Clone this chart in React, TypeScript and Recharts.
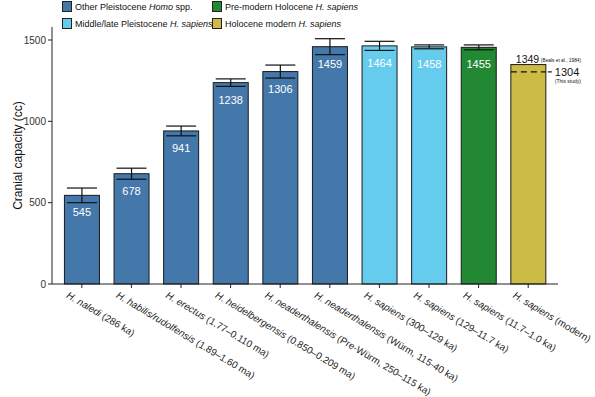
import React from "react";
import { BarChart, Bar, XAxis, YAxis, Cell, ErrorBar, LabelList } from "recharts";

const species = [
  "H. naledi",
  "H. habilis/rudolfensis",
  "H. erectus",
  "H. heidelbergensis",
  "H. neaderthalensis",
  "H. neaderthalensis",
  "H. sapiens",
  "H. sapiens",
  "H. sapiens",
  "H. sapiens",
];
const periods = [
  "(286 ka)",
  "(1.89–1.60 ma)",
  "(1.77–0.110 ma)",
  "(0.850–0.209 ma)",
  "(Pre-Würm, 250–115 ka)",
  "(Würm, 115-40 ka)",
  "(300–129 ka)",
  "(129–11.7 ka)",
  "(11.7–1.0 ka)",
  "(modern)",
];
const capacity = [545, 678, 941, 1238, 1306, 1459, 1464, 1458, 1455, 1349];
const errors = [45, 34, 30, 23, 40, 49, 28, 12, 15, 0];
const groups = ["other", "other", "other", "other", "other", "other", "mid", "mid", "pre", "holo"];
const thisStudy = 1304;
const yTicks = [0, 500, 1000, 1500];

const groupColors: { [k: string]: string } = {
  other: "#4477AA",
  mid: "#66CCEE",
  pre: "#228833",
  holo: "#CCBB44",
};

const data = capacity.map((v, i) => ({
  name: species[i] + " " + periods[i],
  value: v,
  err: errors[i],
  group: groups[i],
}));

const font = "'Liberation Sans', Arial, Helvetica, sans-serif";

const XTick = (props: any) => {
  const { x, y, index } = props;
  return (
    <g transform={`translate(${x - 16},${y + 7}) rotate(31)`}>
      <text x={0} y={0} fontSize={9.8} fill="#222" fontFamily={font} textAnchor="start">
        <tspan fontStyle="italic">{species[index]}</tspan>
        <tspan> {periods[index]}</tspan>
      </text>
    </g>
  );
};

const ValueLabel = (props: any) => {
  const { x, y, width, value, index } = props;
  if (index === capacity.length - 1) return null;
  return (
    <text x={x + width / 2} y={y + 21} fontSize={11} fill="#fff" textAnchor="middle" fontFamily={font}>
      {value}
    </text>
  );
};

const BarShape = (props: any) => {
  const { x, y, width, height, fill, index } = props;
  const last = index === capacity.length - 1;
  const dashY = y + height * (1 - thisStudy / capacity[index]);
  const r = x + width;
  return (
    <g>
      <rect x={x} y={y} width={width} height={height} fill={fill} stroke="#1a1a1a" strokeWidth={1} />
      {last && (
        <g fontFamily={font} fill="#111">
          <line x1={x} x2={r} y1={dashY} y2={dashY} stroke="#111" strokeWidth={1.3} strokeDasharray="6 4" />
          <text x={x + 5} y={y - 1.5} fontSize={10.5}>
            {capacity[index]}
          </text>
          <text x={r - 5} y={y - 2.5} fontSize={4.8}>
            (Beals et al., 1984)
          </text>
          <line x1={r + 2} x2={r + 6} y1={dashY} y2={dashY} stroke="#111" strokeWidth={1.2} />
          <text x={r + 9} y={dashY + 4.5} fontSize={11}>
            {thisStudy}
          </text>
          <text x={r + 9} y={dashY + 11} fontSize={5}>
            (This study)
          </text>
        </g>
      )}
    </g>
  );
};

const legendItems = [
  { color: groupColors.other, pre: "Other Pleistocene ", it: "Homo", post: " spp.", left: 62, top: 1 },
  { color: groupColors.pre, pre: "Pre-modern Holocene ", it: "H. sapiens", post: "", left: 212, top: 1 },
  { color: groupColors.mid, pre: "Middle/late Pleistocene ", it: "H. sapiens", post: "", left: 62, top: 18 },
  { color: groupColors.holo, pre: "Holocene modern ", it: "H. sapiens", post: "", left: 212, top: 18 },
];

export default function App() {
  return (
    <div style={{ position: "absolute", left: 0, top: 0, width: 595, height: 397, background: "#fff" }}>
      {legendItems.map((l) => (
        <div
          key={l.pre + l.it}
          style={{
            position: "absolute",
            left: l.left,
            top: l.top,
            display: "flex",
            alignItems: "center",
            fontFamily: font,
            fontSize: 9,
            color: "#111",
            whiteSpace: "nowrap",
          }}
        >
          <span
            style={{
              display: "inline-block",
              width: 8,
              height: 9,
              background: l.color,
              border: "1px solid #222",
              marginRight: 3,
            }}
          />
          <span>
            {l.pre}
            <i>{l.it}</i>
            {l.post}
          </span>
        </div>
      ))}
      <BarChart
        width={595}
        height={397}
        data={data}
        margin={{ top: 27, right: 37, bottom: 5, left: 12 }}
        barCategoryGap="15%"
      >
        <XAxis
          dataKey="name"
          interval={0}
          tick={<XTick />}
          tickSize={4}
          stroke="#222"
          height={108}
          padding={{ left: 5, right: 5 }}
        />
        <YAxis
          domain={[0, 1580]}
          ticks={yTicks}
          tickSize={4}
          stroke="#222"
          width={40}
          tick={{ fontSize: 10, fill: "#333", fontFamily: font }}
          label={{
            value: "Cranial capacity (cc)",
            angle: -90,
            position: "insideLeft",
            offset: 6,
            style: { fontSize: 12, fill: "#111", fontFamily: font, textAnchor: "middle" },
          }}
        />
        <Bar dataKey="value" isAnimationActive={false} shape={<BarShape />}>
          {data.map((d) => (
            <Cell key={d.name} fill={groupColors[d.group]} />
          ))}
          <LabelList dataKey="value" content={<ValueLabel />} />
          <ErrorBar dataKey="err" width={15} stroke="#111" strokeWidth={1.2} direction="y" />
        </Bar>
      </BarChart>
    </div>
  );
}
